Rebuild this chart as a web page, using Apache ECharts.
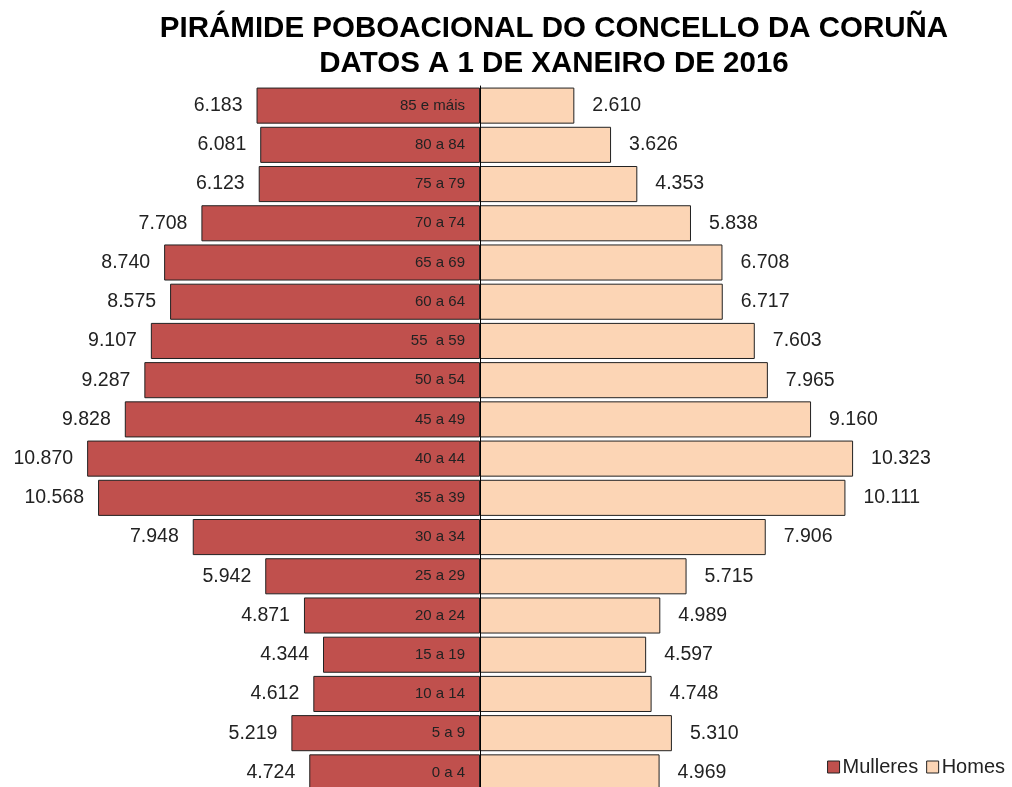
<!DOCTYPE html>
<html>
<head>
<meta charset="utf-8">
<script src="https://cdn.jsdelivr.net/npm/echarts@6/dist/echarts.min.js"></script>
<style>
	html, body { margin: 0; padding: 0; background: #fff; }
	#chart { width: 1012px; height: 787px; }
</style>
</head>
<body>
<div id="chart"></div>
<script>
	// age groups, bottom to top
	var grupos = ['0 a 4', '5 a 9', '10 a 14', '15 a 19', '20 a 24', '25 a 29', '30 a 34', '35 a 39', '40 a 44',
		'45 a 49', '50 a 54', '55  a 59', '60 a 64', '65 a 69', '70 a 74', '75 a 79', '80 a 84', '85 e máis'];
	var mulleres = [4724, 5219, 4612, 4344, 4871, 5942, 7948, 10568, 10870, 9828, 9287, 9107, 8575, 8740, 7708, 6123, 6081, 6183];
	var homes = [4969, 5310, 4748, 4597, 4989, 5715, 7906, 10111, 10323, 9160, 7965, 7603, 6717, 6708, 5838, 4353, 3626, 2610];

	function fmt(v) {
		return String(Math.abs(v)).replace(/\B(?=(\d{3})+(?!\d))/g, '.');
	}

	var chart = echarts.init(document.getElementById('chart'));
	var option = {
		animation: false,
		title: {
			text: 'PIRÁMIDE POBOACIONAL DO CONCELLO DA CORUÑA\nDATOS A 1 DE XANEIRO DE 2016',
			left: 549,
			top: 6,
			textAlign: 'center',
			textStyle: {
				fontFamily: 'Liberation Sans, Arial, sans-serif',
				fontWeight: 'bold',
				fontSize: 29.5,
				lineHeight: 35,
				color: '#000'
			}
		},
		legend: {
			right: 2,
			top: 752,
			itemWidth: 12,
			itemHeight: 12,
			itemGap: 8,
			textStyle: { fontFamily: 'Liberation Sans, Arial, sans-serif', fontSize: 20, color: '#222', padding: [0, 0, 0, -2] },
			data: [
				{ name: 'Mulleres', icon: 'rect', itemStyle: { borderColor: '#222', borderWidth: 1 } },
				{ name: 'Homes', icon: 'rect', itemStyle: { borderColor: '#222', borderWidth: 1 } }
			]
		},
		grid: {
			left: 21,
			width: 918,
			top: 86,
			height: 706,
			outerBoundsMode: 'none',
			containLabel: false
		},
		xAxis: {
			type: 'value',
			min: -12700,
			max: 12700,
			axisLine: { show: false },
			axisTick: { show: false },
			axisLabel: { show: false },
			splitLine: { show: false }
		},
		yAxis: {
			type: 'category',
			data: grupos,
			z: 5,
			axisTick: { show: false },
			axisLabel: { show: false },
			axisLine: { onZero: true, lineStyle: { color: '#000', width: 1 } }
		},
		series: [
			{
				name: 'Mulleres',
				type: 'bar',
				barWidth: '92%',
				barGap: '-100%',
				data: mulleres.map(function (v) { return -v; }),
				itemStyle: { color: '#C0504D', borderColor: '#222', borderWidth: 1 },
				label: {
					show: true,
					position: 'left',
					distance: 14,
					formatter: function (p) { return fmt(p.value); },
					fontFamily: 'Liberation Sans, Arial, sans-serif',
					fontSize: 19.5,
					color: '#222'
				}
			},
			{
				name: 'Homes',
				type: 'bar',
				barWidth: '92%',
				data: homes,
				itemStyle: { color: '#FCD5B5', borderColor: '#222', borderWidth: 1 },
				label: {
					show: true,
					position: 'right',
					distance: 18,
					formatter: function (p) { return fmt(p.value); },
					fontFamily: 'Liberation Sans, Arial, sans-serif',
					fontSize: 19.5,
					color: '#222'
				}
			},
			{
				// age group names, drawn inside the women's bars next to the centre line
				name: 'grupos',
				type: 'bar',
				barWidth: '92%',
				barGap: '-100%',
				silent: true,
				data: mulleres.map(function (v) { return -v; }),
				itemStyle: { color: 'rgba(0,0,0,0)' },
				label: {
					show: true,
					position: 'insideRight',
					distance: 15,
					formatter: function (p) { return p.name; },
					fontFamily: 'Liberation Sans, Arial, sans-serif',
					fontSize: 15,
					color: '#222'
				}
			}
		]
	};
	chart.setOption(option);
	window.addEventListener('resize', function () {
		chart.resize();
	});
</script>
</body>
</html>
